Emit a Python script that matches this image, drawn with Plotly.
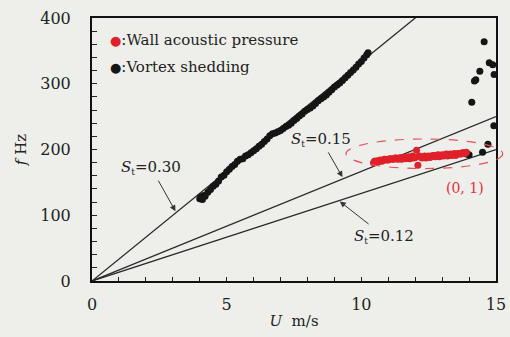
import plotly.graph_objects as go

# Vortex shedding (black) points
vortex_u = [4.0, 4.05, 4.1, 4.15, 4.2, 4.3, 4.4, 4.5, 4.6, 4.7, 4.8, 4.9, 5.0, 5.1, 5.2, 5.3,
            5.4, 5.5, 5.6, 5.7, 5.8, 5.9, 6.0, 6.1, 6.2, 6.3, 6.4, 6.5, 6.6, 6.7, 6.8, 6.9,
            7.0, 7.1, 7.2, 7.3, 7.4, 7.5, 7.6, 7.7, 7.8, 7.9, 8.0, 8.1, 8.2, 8.3, 8.4, 8.5,
            8.6, 8.7, 8.8, 8.9, 9.0, 9.1, 9.2, 9.3, 9.4, 9.5, 9.6, 9.7, 9.8, 9.9, 10.0, 10.1,
            10.2, 10.25,
            10.5, 13.9, 14.0, 14.5, 14.7, 14.92, 14.1, 14.2, 14.25, 14.4, 14.56, 14.75, 14.88, 14.93]
vortex_f = [125, 128, 124, 130, 129, 135, 139, 144, 147, 152, 158, 161, 166, 170, 174, 177,
            182, 185, 186, 190, 192, 195, 198, 201, 205, 208, 212, 216, 221, 224, 225, 227,
            229, 232, 235, 237, 240, 244, 247, 251, 254, 258, 261, 263, 266, 270, 274, 277,
            280, 283, 287, 291, 295, 298, 301, 305, 309, 313, 317, 321, 325, 330, 334, 339,
            344, 347,
            182, 193, 192, 196, 208, 236, 272, 304, 306, 319, 364, 332, 329, 314]

# Wall acoustic pressure (red) points
wall_u = [10.45, 10.5, 10.55, 10.6, 10.65, 10.7, 10.75, 10.8, 10.85, 10.9, 10.95, 11.0, 11.05,
          11.1, 11.15, 11.2, 11.25, 11.3, 11.35, 11.4, 11.45, 11.5, 11.55, 11.6, 11.65, 11.7,
          11.75, 11.8, 11.85, 11.9, 11.95, 12.0, 12.05, 12.1, 12.15, 12.2, 12.25, 12.3, 12.35,
          12.4, 12.45, 12.5, 12.55, 12.6, 12.65, 12.7, 12.75, 12.8, 12.85, 12.9, 12.95, 13.0,
          13.05, 13.1, 13.15, 13.2, 13.25, 13.3, 13.35, 13.4, 13.45, 13.5, 13.55, 13.6, 13.65,
          13.7, 13.75, 13.8, 13.85, 13.9]
wall_f = [180, 182, 181, 183, 182, 184, 182, 183, 185, 185, 184, 184, 186,
          186, 185, 185, 187, 187, 185, 186, 188, 185, 187, 188, 186, 187,
          189, 186, 188, 190, 187, 188, 199, 176, 190, 189, 187, 188, 190,
          187, 189, 190, 188, 189, 191, 191, 189, 190, 192, 189, 191, 192,
          190, 191, 193, 190, 192, 193, 191, 192, 194, 191, 193, 194, 193,
          193, 195, 195, 194, 196]

# Strouhal reference lines f = S * U / D
strouhal = [0.30, 0.15, 0.12]
D = 0.009
line_u = [0, 15]

FONT = "DejaVu Serif"
BG = "#eeeeeb"

fig = go.Figure()
for s in strouhal:
    fig.add_trace(go.Scatter(x=line_u, y=[s * u / D for u in line_u], mode="lines",
                             line=dict(color="#2a2a2a", width=1.3), showlegend=False,
                             hoverinfo="skip"))

fig.add_trace(go.Scatter(x=vortex_u, y=vortex_f, mode="markers",
                         marker=dict(color="#151515", size=7), showlegend=False,
                         cliponaxis=False))
fig.add_trace(go.Scatter(x=wall_u, y=wall_f, mode="markers",
                         marker=dict(color="#e0202a", size=7), showlegend=False))

# dashed ellipse (paper coords so it can extend past the frame)
fig.add_shape(type="circle", xref="paper", yref="paper",
              x0=9.43 / 15, x1=15.25 / 15, y0=171 / 400, y1=216 / 400,
              line=dict(color="#e8505a", width=1.2, dash="dash"))

SUB = "<sub><span style='font-size:9px'>t</span></sub>"
ann = []
def label_arrow(tx, ty, hx, hy, t):
    ann.append(dict(x=hx, y=hy, ax=tx, ay=ty, xref="x", yref="y", axref="x", ayref="y",
                    text=t, showarrow=True, arrowhead=2, arrowsize=1.2, arrowwidth=1,
                    arrowcolor="#333", standoff=0, startstandoff=2,
                    font=dict(family=FONT, size=15, color="#222")))

label_arrow(2.2, 172, 3.1, 106, f"<i>S</i>{SUB}=0.30")
label_arrow(8.5, 215, 9.3, 158, f"<i>S</i>{SUB}=0.15")
label_arrow(10.85, 68, 9.2, 121, f"<i>S</i>{SUB}=0.12")
ann.append(dict(x=13.85, y=142, xref="x", yref="y", text="(0, 1)", showarrow=False,
                font=dict(family=FONT, size=14, color="#e0303a")))

for yy, col, label in [(367, "#e0202a", ":Wall acoustic pressure"),
                        (325, "#151515", ":Vortex shedding")]:
    ann.append(dict(x=0.6, y=yy, xref="x", yref="y", xanchor="left", showarrow=False,
                    text=f"<span style='color:{col};font-size:13px'>●</span>{label}",
                    font=dict(family=FONT, size=15, color="#222")))

fig.update_layout(
    width=510, height=337,
    margin=dict(l=92, r=14, t=18, b=56),
    paper_bgcolor=BG, plot_bgcolor=BG,
    annotations=ann,
    font=dict(family=FONT, color="#222"),
    showlegend=False,
)
fig.update_xaxes(range=[0, 15], tickvals=[0, 5, 10, 15], ticks="inside", ticklen=4,
                 tickcolor="#222", showline=True, linecolor="#111", linewidth=2, mirror=True,
                 showgrid=False, zeroline=False, automargin=False,
                 minor=dict(dtick=1, ticks="inside", ticklen=4, tickcolor="#222"),
                 tickfont=dict(family=FONT, size=16, color="#222"), ticklabelstandoff=8,
                 title=dict(text="<i>U</i>  m/s", font=dict(family=FONT, size=15), standoff=2))
fig.update_yaxes(range=[0, 400], tickvals=[0, 100, 200, 300, 400], ticks="inside", ticklen=5,
                 tickcolor="#222", showline=True, linecolor="#111", linewidth=2, mirror=True,
                 showgrid=False, zeroline=False, automargin=False,
                 minor=dict(dtick=20, ticks="inside", ticklen=5, tickcolor="#222"),
                 tickfont=dict(family=FONT, size=16, color="#222"), ticklabelstandoff=16,
                 title=dict(text="<i>f</i> Hz", font=dict(family=FONT, size=15), standoff=10))

fig.write_html("out.html", config={"displayModeBar": False},
               post_script="document.body.style.margin='0';")
